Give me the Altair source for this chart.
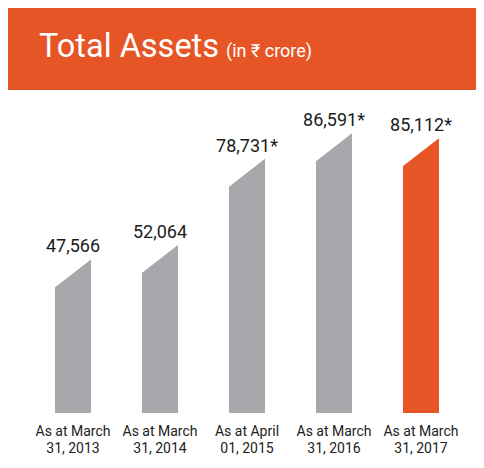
import altair as alt
import pandas as pd

categories = ["As at March\n31, 2013", "As at March\n31, 2014", "As at April\n01, 2015",
              "As at March\n31, 2016", "As at March\n31, 2017"]
values = [47566, 52064, 78731, 86591, 85112]
value_labels = ["47,566", "52,064", "78,731*", "86,591*", "85,112*"]
highlight = ["no", "no", "no", "no", "yes"]
title_main = ["Total Assets"]
title_unit = ["(in \u20b9 crore)"]

ORANGE = "#E55526"
GREY = "#A7A8AB"

df = pd.DataFrame({"cat": categories, "value": values, "label": value_labels, "hl": highlight})
hdr = pd.DataFrame({"main": title_main, "unit": title_unit})

W, H = 468, 323

x = alt.X("cat:N", sort=categories, axis=None,
          scale=alt.Scale(range=[47, 431], paddingInner=0.586, paddingOuter=0))
y = alt.Y("value:Q", axis=None, scale=alt.Scale(domain=[0, 100000], nice=False, zero=True))

base = alt.Chart(df)

header = alt.Chart(hdr).mark_rect(color=ORANGE).encode(
    x=alt.value(-10), x2=alt.value(W + 10), y=alt.value(-90), y2=alt.value(0))
t_main = alt.Chart(hdr).mark_text(font="Roboto", fontSize=32.5, color="white", align="left",
                                  baseline="alphabetic").encode(
    x=alt.value(31), y=alt.value(-33), text="main:N")
t_unit = alt.Chart(hdr).mark_text(font="Roboto", fontSize=18, color="white", align="left",
                                  baseline="alphabetic").encode(
    x=alt.value(218), y=alt.value(-33), text="unit:N")

bars = base.mark_bar().encode(
    x=x, y=y,
    color=alt.Color("hl:N", scale=alt.Scale(domain=["no", "yes"], range=[GREY, ORANGE]), legend=None))

cut = base.mark_point(shape="M -1.3 -0.15 L 1.3 -0.15 L 1.3 -0.233 L -1.3 1.789 Z",
                      size=1296, filled=True, fill="white", opacity=1, strokeWidth=0).encode(x=x, y=y)

vals = base.mark_text(font="Roboto", fontSize=18, dy=-7, baseline="alphabetic",
                      color="#1b1b1b").encode(x=x, y=y, text="label:N")

cats = base.mark_text(font="Roboto", fontSize=14, lineBreak="\n", baseline="top", lineHeight=17,
                      color="#222222").encode(x=x, y=alt.value(335), text="cat:N")

chart = alt.layer(header, t_main, t_unit, bars, cut, vals, cats).properties(
    width=W, height=H,
    background="white",
    autosize=alt.AutoSizeParams(type="none"),
    padding={"left": 0, "top": 82, "right": 0, "bottom": 47},
).configure_view(stroke=None, strokeWidth=0)

chart.save("out.html", embed_options={"renderer": "svg", "actions": False})
